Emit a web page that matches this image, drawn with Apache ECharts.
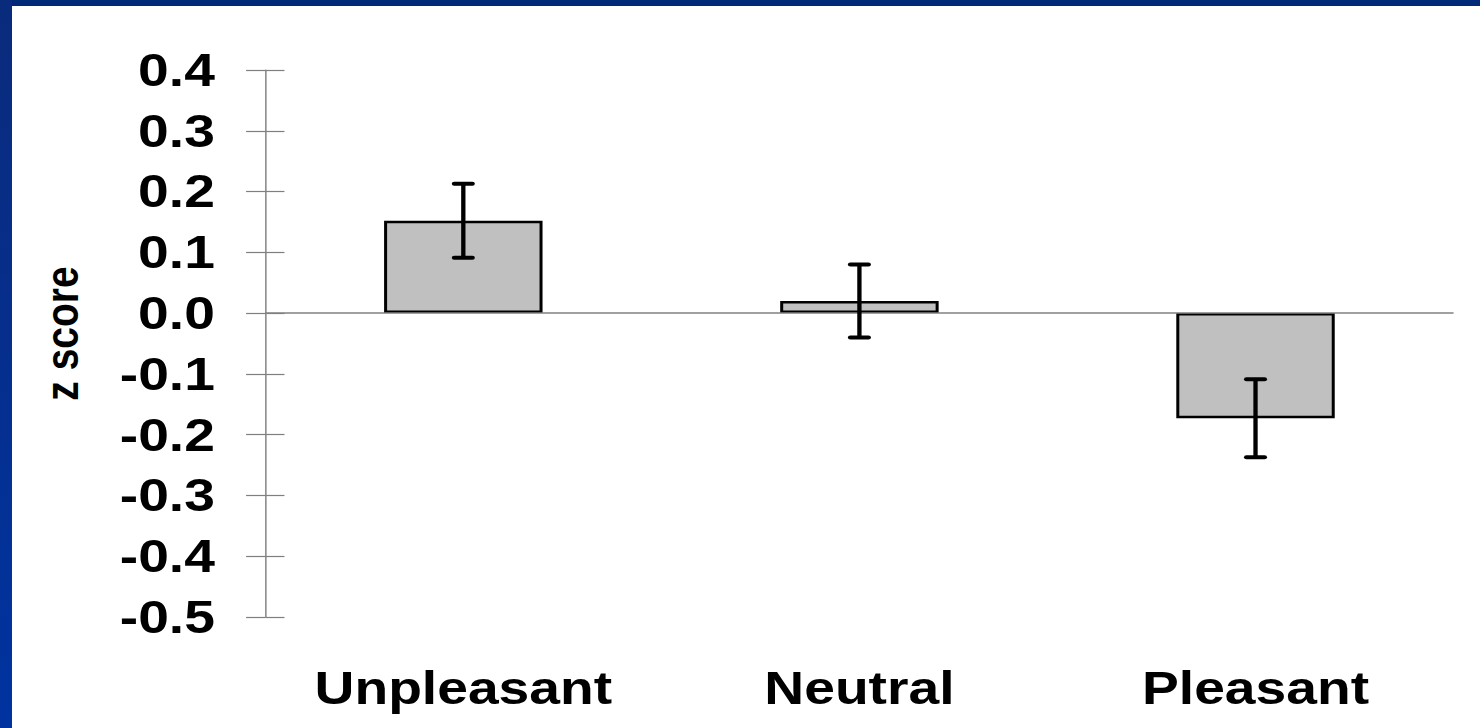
<!DOCTYPE html>
<html>
<head>
<meta charset="utf-8">
<title>z score</title>
<script src="https://cdn.jsdelivr.net/npm/echarts@6/dist/echarts.min.js"></script>
<style>
  html, body { margin: 0; padding: 0; background: #fff; overflow: hidden; }
  /* 原图整体被横向拉伸过，这里用 scaleX 还原 */
  #main { position: absolute; left: 0; top: 0; width: 1233px; height: 728px;
          transform: scaleX(1.2003); transform-origin: 0 0; }
  .frame-top { position: absolute; left: 0; top: 0; width: 1480px; height: 6px;
               background: #00297a; z-index: 5; }
  .frame-left { position: absolute; left: 0; top: 0; width: 12px; height: 728px;
                background: linear-gradient(#0a2b7c, #0033a0); z-index: 5; }
</style>
</head>
<body>
<div id="main"></div>
<div class="frame-top"></div>
<div class="frame-left"></div>
<script>
// 数据
var categories = ['Unpleasant', 'Neutral', 'Pleasant'];
var means = [0.152, 0.02, -0.173];
var errors = [0.061, 0.06, 0.064];
var yTicks = { min: -0.5, max: 0.4, interval: 0.1 };

(function () {
  var myChart = echarts.init(document.getElementById('main'), null, { renderer: 'svg' });
  var font = "'Liberation Sans', Arial, sans-serif";
  // 误差线数据 [类目索引, 下限, 上限]
  var errData = categories.map(function (c, i) {
    return [i, means[i] - errors[i], means[i] + errors[i]];
  });
  var yBase = {
    type: 'value',
    min: yTicks.min,
    max: yTicks.max,
    interval: yTicks.interval,
    position: 'left',
    splitLine: { show: false }
  };
  var option = {
    animation: false,
    grid: { left: 221, right: 22, top: 70, bottom: 111, containLabel: false },
    xAxis: {
      type: 'category',
      data: categories,
      axisLine: { show: false, onZero: false },
      axisTick: { show: false },
      axisLabel: {
        color: '#000',
        fontFamily: font,
        fontWeight: 'bold',
        fontSize: 46,
        margin: 48
      }
    },
    yAxis: [
      Object.assign({}, yBase, {
        name: 'z score',
        nameLocation: 'middle',
        nameRotate: 90,
        nameGap: 150,
        // 左侧padding让标题往上移一点
        nameTextStyle: { color: '#000', fontFamily: font, fontWeight: 'bold', fontSize: 39, padding: [0, 0, 0, 20] },
        axisLine: { show: true, lineStyle: { color: '#7f7f7f', width: 1.2 } },
        axisTick: { show: true, length: 16, lineStyle: { color: '#7f7f7f', width: 1.2 } },
        axisLabel: {
          color: '#000',
          fontFamily: font,
          fontWeight: 'bold',
          fontSize: 46,
          margin: 42,
          formatter: function (v) { return (Math.round(v * 10) / 10).toFixed(1); }
        }
      }),
      // 第二个y轴只画向内的刻度，形成十字刻度
      Object.assign({}, yBase, {
        axisLine: { show: false },
        axisTick: { show: true, inside: true, length: 16, lineStyle: { color: '#7f7f7f', width: 1.2 } },
        axisLabel: { show: false }
      })
    ],
    series: [
      {
        type: 'bar',
        data: means,
        barWidth: '40%',
        itemStyle: { color: '#c0c0c0', borderColor: '#000', borderWidth: 2.5 },
        // 零线
        markLine: {
          silent: true,
          symbol: 'none',
          label: { show: false },
          lineStyle: { color: '#808080', width: 1.5, type: 'solid' },
          data: [{ yAxis: 0 }]
        },
        z: 2
      },
      {
        type: 'custom',
        data: errData,
        encode: { x: 0, y: [1, 2] },
        z: 5,
        renderItem: function (params, api) {
          var top = api.coord([api.value(0), api.value(2)]);
          var bot = api.coord([api.value(0), api.value(1)]);
          var hw = 7.6;
          var style = { stroke: '#000', lineWidth: 4, lineCap: 'round' };
          return {
            type: 'group',
            children: [
              { type: 'line', shape: { x1: top[0], y1: top[1], x2: bot[0], y2: bot[1] },
                style: { stroke: '#000', lineWidth: 3.6 } },
              { type: 'line', shape: { x1: top[0] - hw, y1: top[1], x2: top[0] + hw, y2: top[1] }, style: style },
              { type: 'line', shape: { x1: bot[0] - hw, y1: bot[1], x2: bot[0] + hw, y2: bot[1] }, style: style }
            ]
          };
        }
      }
    ]
  };
  myChart.setOption(option);
})();
</script>
</body>
</html>
